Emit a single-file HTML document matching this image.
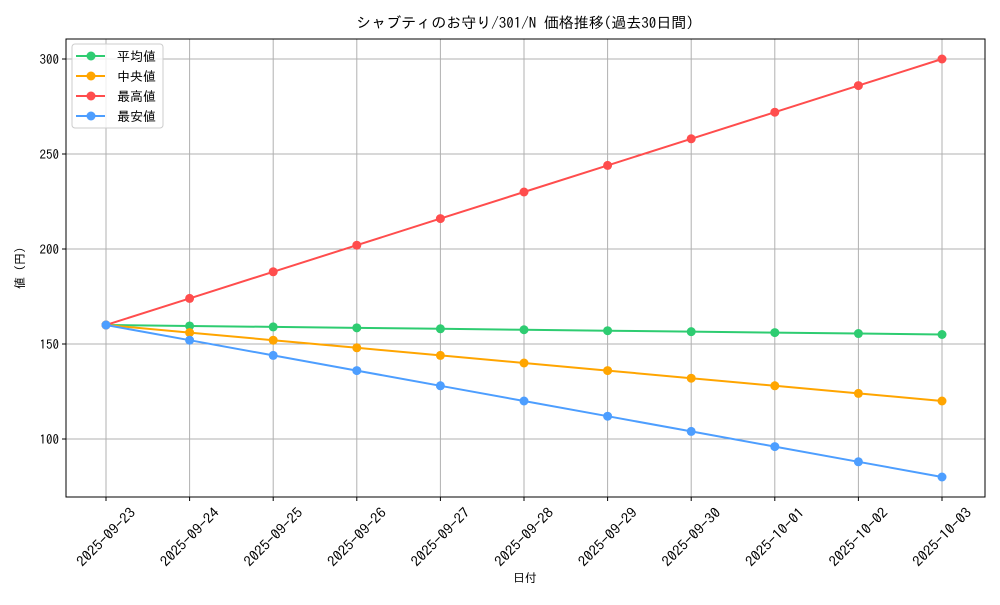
<!DOCTYPE html>
<html><head><meta charset="utf-8"><style>
body{margin:0;background:#fff}
svg{font-family:"IPAGothic","Liberation Mono","Noto Sans CJK JP",monospace}
</style></head><body>
<svg id="c" width="1000" height="600" xmlns="http://www.w3.org/2000/svg">
<rect width="1000" height="600" fill="#fff"/>
<g id="grid"></g><g id="axes"></g><g id="series"></g>
<text x="525" y="28" font-size="15" text-anchor="middle">シャブティのお守り/301/N 価格推移(過去30日間)</text>
<text x="525" y="582" font-size="12" text-anchor="middle">日付</text>
<text x="24" y="268" font-size="12" text-anchor="middle" transform="rotate(-90 24 268)">値 (円)</text>
<g id="legend"></g>
</svg>
<script>
const dates=["2025-09-23","2025-09-24","2025-09-25","2025-09-26","2025-09-27","2025-09-28","2025-09-29","2025-09-30","2025-10-01","2025-10-02","2025-10-03"];
const meanVals=[160,159.5,159,158.5,158,157.5,157,156.5,156,155.5,155];
const medianVals=[160,156,152,148,144,140,136,132,128,124,120];
const maxVals=[160,174,188,202,216,230,244,258,272,286,300];
const minVals=[160,152,144,136,128,120,112,104,96,88,80];
const yTicks=[100,150,200,250,300];
const seriesNames=["平均値","中央値","最高値","最安値"];
const L=66,R=985,T=39,B=497;
const xs=i=>106+i*(942-106)/(dates.length-1);
const ys=v=>344-(v-150)*1.9;
const NS="http://www.w3.org/2000/svg";
function mk(p,tag,a){const e=document.createElementNS(NS,tag);for(const k in a)e.setAttribute(k,a[k]);p.appendChild(e);return e;}
const grid=document.getElementById('grid'),axes=document.getElementById('axes'),ser=document.getElementById('series'),leg=document.getElementById('legend');
dates.forEach((d,i)=>{const x=xs(i);
const g=mk(grid,'line',{x1:x,x2:x,y1:T,y2:B,stroke:'#b0b0b0','stroke-width':1});

mk(axes,'line',{x1:x,x2:x,y1:B,y2:B+4,stroke:'#000'});
const cy=537;
const t=mk(axes,'text',{x:x,y:cy+5,'font-size':14,'text-anchor':'middle',textLength:76,lengthAdjust:'spacingAndGlyphs',transform:`rotate(-45 ${x} ${cy})`});
t.textContent=d;});
yTicks.forEach(v=>{const y=ys(v);
const g=mk(grid,'line',{x1:L,x2:R,y1:y,y2:y,stroke:'#b0b0b0','stroke-width':1});

mk(axes,'line',{x1:L-4,x2:L,y1:y,y2:y,stroke:'#000'});
const t=mk(axes,'text',{x:L-7,y:y+5,'font-size':13,'text-anchor':'end'});
t.textContent=v;});
const fr=mk(axes,'rect',{x:L,y:T,width:R-L,height:B-T,fill:'none',stroke:'#000','stroke-width':1});

const all=[meanVals,medianVals,maxVals,minVals];
const cols=["#2ecc71","#ffa500","#ff4d4d","#4d9eff"];
const keys=["mean","median","max","min"];
all.forEach((arr,s)=>{
const pl=mk(ser,'polyline',{points:arr.map((v,i)=>xs(i)+','+ys(v)).join(' '),fill:'none',stroke:cols[s],'stroke-width':2});

arr.forEach((v,i)=>{const c=mk(ser,'circle',{cx:xs(i),cy:ys(v),r:4.5,fill:cols[s]});
});});
const lb=mk(leg,'rect',{x:72,y:44,width:91,height:84,rx:3,fill:'#fff','fill-opacity':0.8,stroke:'#ccc'});

seriesNames.forEach((n,s)=>{const y=56+s*20;
const g=mk(leg,'g',{});
mk(g,'line',{x1:76,x2:105,y1:y,y2:y,stroke:cols[s],'stroke-width':2});
mk(g,'circle',{cx:91,cy:y,r:4.5,fill:cols[s]});
const t=mk(g,'text',{x:117,y:y+5,'font-size':13});t.textContent=n;});
</script>
</body></html>
